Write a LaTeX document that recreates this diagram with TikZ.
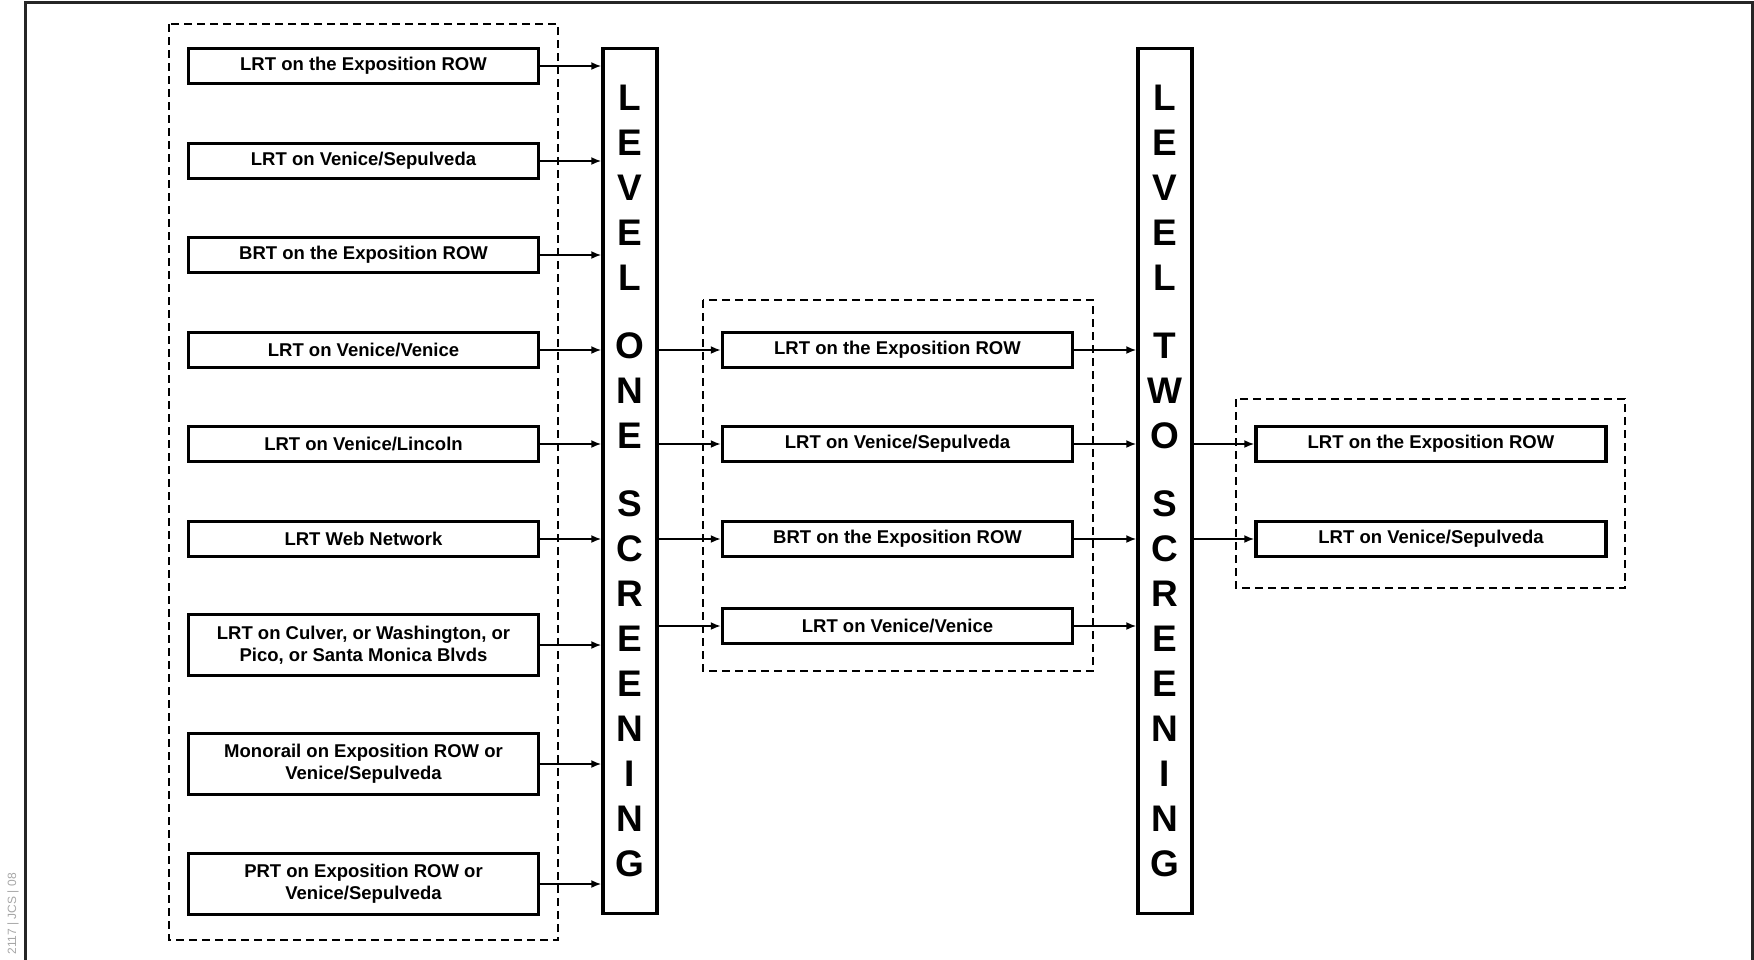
\documentclass[tikz,border=0pt]{standalone}
\usepackage{fontspec}
\setmainfont{Liberation Sans}
\usetikzlibrary{arrows.meta}

\begin{document}
\begin{tikzpicture}[x=1pt,y=-1pt,
    box/.style={draw, line width=3.5pt, minimum width=350pt, inner sep=0pt, align=center,
        font=\fontsize{18.5}{22}\selectfont\bfseries},
    level/.style={draw, line width=3.5pt, minimum width=54pt, minimum height=865pt, inner sep=0pt,
        align=center, font=\fontsize{37}{45}\selectfont\bfseries},
    group/.style={draw, line width=1.8pt, dash pattern=on 8pt off 5pt},
    arr/.style={-{Latex[length=10pt,width=8pt]}, line width=1.7pt}]

    \useasboundingbox (0,0) rectangle (1754,959);

    % frame and side tag
    \draw [line width=3pt, black!85] (25,962) -- (25,2) -- (1752,2) -- (1752,962);
    \node [rotate=90, anchor=east, text=black!35, inner sep=1pt, font=\fontsize{12}{12}\selectfont] (T) at (13,872) {2117 | JCS | 08};

    % dashed groups
    \draw [group] (169,24) rectangle (558,940);
    \draw [group] (703,300) rectangle (1093,671);
    \draw [group] (1236,399) rectangle (1625,588);

    % screening columns
    \node [level] (P) at (630,481) {L\\E\\V\\E\\L\\[23pt]O\\N\\E\\[23pt]S\\C\\R\\E\\E\\N\\I\\N\\G};
    \node [level] (Q) at (1165,481) {L\\E\\V\\E\\L\\[23pt]T\\W\\O\\[23pt]S\\C\\R\\E\\E\\N\\I\\N\\G};

    % alternatives
    \node [box, minimum height=35] (A1) at (363.5,66) {LRT on the Exposition ROW};
    \node [box, minimum height=35] (A2) at (363.5,161) {LRT on Venice/Sepulveda};
    \node [box, minimum height=35] (A3) at (363.5,255) {BRT on the Exposition ROW};
    \node [box, minimum height=35] (A4) at (363.5,350) {LRT on Venice/Venice};
    \node [box, minimum height=35] (A5) at (363.5,444) {LRT on Venice/Lincoln};
    \node [box, minimum height=35] (A6) at (363.5,539) {LRT Web Network};
    \node [box, minimum height=61] (A7) at (363.5,645) {LRT on Culver, or Washington, or\\Pico, or Santa Monica Blvds};
    \node [box, minimum height=61] (A8) at (363.5,764) {Monorail on Exposition ROW or\\Venice/Sepulveda};
    \node [box, minimum height=61] (A9) at (363.5,884) {PRT on Exposition ROW or\\Venice/Sepulveda};

    \node [box, minimum height=35] (B1) at (897.5,350) {LRT on the Exposition ROW};
    \node [box, minimum height=35] (B2) at (897.5,444) {LRT on Venice/Sepulveda};
    \node [box, minimum height=35] (B3) at (897.5,539) {BRT on the Exposition ROW};
    \node [box, minimum height=35] (B4) at (897.5,626) {LRT on Venice/Venice};

    \node [box, minimum height=35] (C1) at (1431,444) {LRT on the Exposition ROW};
    \node [box, minimum height=35] (C2) at (1431,539) {LRT on Venice/Sepulveda};

    % arrows
    \foreach \y in {A1,A2,A3,A4,A5,A6,A7,A8,A9}
        \draw [arr] (\y.east) -- (\y.east -| P.west);
    \foreach \y in {B1,B2,B3,B4}
    {
        \draw [arr] (P.east |- \y.west) -- (\y.west);
        \draw [arr] (\y.east) -- (\y.east -| Q.west);
    }
    \foreach \y in {C1,C2}
        \draw [arr] (Q.east |- \y.west) -- (\y.west);
\end{tikzpicture}
\end{document}
